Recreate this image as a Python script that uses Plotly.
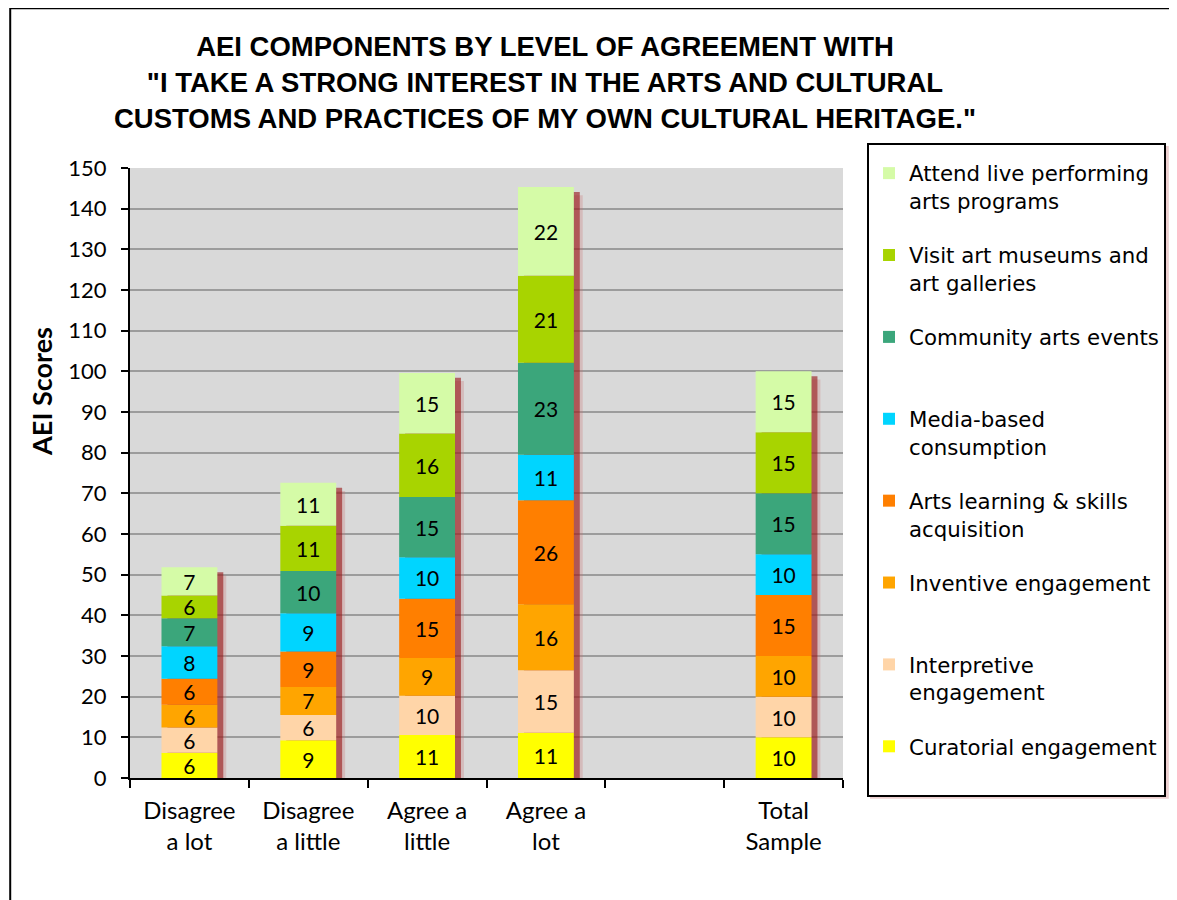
import numpy as np
import plotly.graph_objects as go

categories = ["Disagree<br>a lot", "Disagree<br>a little", "Agree a<br>little", "Agree a<br>lot", " ", "Total<br>Sample"]

# component values per category (None for the empty slot)
curatorial   = [6.2, 9.3, 10.6, 11.1, None, 10]
interpretive = [6.2, 6.2, 9.6, 15.4, None, 10]
inventive    = [5.6, 6.9, 9.3, 16.2, None, 10]
arts_learning = [6.4, 8.7, 14.6, 25.6, None, 15]
media        = [8.0, 9.4, 10.2, 11.2, None, 10]
community    = [6.9, 10.4, 14.8, 22.6, None, 15]
museums      = [5.6, 11.1, 15.6, 21.4, None, 15]
live_arts    = [6.9, 10.6, 14.9, 21.8, None, 15]

series_names = [
    "Curatorial engagement<br> ",
    "Interpretive<br>engagement",
    "Inventive engagement<br> ",
    "Arts learning & skills<br>acquisition",
    "Media-based<br>consumption",
    "Community arts events<br> ",
    "Visit art museums and<br>art galleries",
    "Attend live performing<br>arts programs",
]
series_values = [curatorial, interpretive, inventive, arts_learning, media, community, museums, live_arts]
series_colors = ["#FFFF00", "#FFD5A8", "#FFA500", "#FF7F00", "#00D5FF", "#3BA67B", "#A8D400", "#D5FBA7"]

y_ticks = list(range(0, 151, 10))

arr = np.array([[np.nan if v is None else v for v in s] for s in series_values], dtype=float)
tops = np.nancumsum(arr, axis=0)
bases = tops - np.nan_to_num(arr)
totals = tops[-1]
valid = ~np.isnan(arr[0])

BW = 0.47
fig = go.Figure()

# bar shadows
for shift, col, shrink in [(0.075, "rgba(200,110,110,0.28)", 2.0), (0.05, "rgba(150,20,20,0.6)", 1.2)]:
    fig.add_trace(go.Bar(
        x=categories,
        y=[t - shrink if ok else None for t, ok in zip(totals, valid)],
        width=BW, offset=-BW / 2 + shift,
        marker=dict(color=col, line=dict(width=0)),
        showlegend=False, hoverinfo="skip",
    ))

n = len(series_names)
for i, (name, vals, col) in enumerate(zip(series_names, series_values, series_colors)):
    fig.add_trace(go.Bar(
        x=categories,
        y=vals,
        base=[b if ok else None for b, ok in zip(bases[i], valid)],
        name=name,
        legendgroup=str(i),
        legendrank=n - i,
        width=BW, offset=-BW / 2,
        marker=dict(color=col, line=dict(width=0)),
        text=[("" if v is None else f"{v:.0f}") for v in vals],
        textposition="inside",
        insidetextanchor="middle",
        textangle=0,
        textfont=dict(family="Lato, Open Sans, sans-serif", size=21, color="black"),
    ))

fig.update_layout(
    width=1169, height=892,
    barmode="overlay",
    paper_bgcolor="white",
    plot_bgcolor="#D9D9D9",
    margin=dict(l=122, r=334, t=160, b=122, autoexpand=False),
    uniformtext=dict(minsize=21, mode="show"),
    showlegend=True,
    legend=dict(
        x=1.0337, y=1.041, xanchor="left", yanchor="top",
        traceorder="grouped", tracegroupgap=23.5, valign="top",
        maxheight=760,
        title=dict(text=" ", font=dict(size=6)),
        bgcolor="white", bordercolor="black", borderwidth=2,
        font=dict(family="DejaVu Sans, sans-serif", size=21.3, color="black"),
    ),
    xaxis=dict(
        categoryorder="array", categoryarray=categories,
        range=[-0.5, 5.5],
        showline=True, linecolor="black", linewidth=2,
        ticks="outside", tickson="boundaries", ticklen=8, tickwidth=2, tickcolor="black",
        ticklabelstandoff=10,
        showgrid=False,
        tickfont=dict(family="Lato, sans-serif", size=24, color="black"),
    ),
    yaxis=dict(
        range=[0, 150], tickvals=y_ticks,
        showline=True, linecolor="black", linewidth=2,
        ticks="outside", ticklen=7, tickwidth=2, tickcolor="black",
        ticklabelstandoff=10,
        showgrid=True, gridcolor="#9C9C9C", gridwidth=2,
        zeroline=False,
        tickfont=dict(family="Lato, sans-serif", size=22, color="black"),
    ),
    annotations=[
        dict(
            xref="paper", yref="paper", x=0.582, y=1.2274, xanchor="center", yanchor="top",
            text="<b>AEI COMPONENTS BY LEVEL OF AGREEMENT WITH<br>\"I TAKE A STRONG INTEREST IN THE ARTS AND CULTURAL<br>CUSTOMS AND PRACTICES OF MY OWN CULTURAL HERITAGE.\"</b>",
            showarrow=False, align="center",
            font=dict(family="Liberation Sans, Arial, sans-serif", size=27.5, color="black"),
        ),
        dict(
            xref="paper", yref="paper", x=-0.1234, y=0.633, xanchor="center", yanchor="middle",
            text="<b>AEI Scores</b>", textangle=-90, showarrow=False,
            font=dict(family="Lato, sans-serif", size=27, color="black"),
        ),
    ],
    shapes=[
        dict(
            type="rect", xref="paper", yref="paper",
            x0=-0.168, x1=1.48, y0=-0.23, y1=1.262,
            line=dict(color="black", width=2), fillcolor="rgba(0,0,0,0)", layer="below",
        ),
        dict(
            type="rect", xref="paper", yref="paper",
            x0=1.0379, x1=1.457, y0=-0.034, y1=1.036,
            line=dict(width=0), fillcolor="rgba(200,120,120,0.35)", layer="above",
        ),
    ],
)

fig.write_html("out.html")
